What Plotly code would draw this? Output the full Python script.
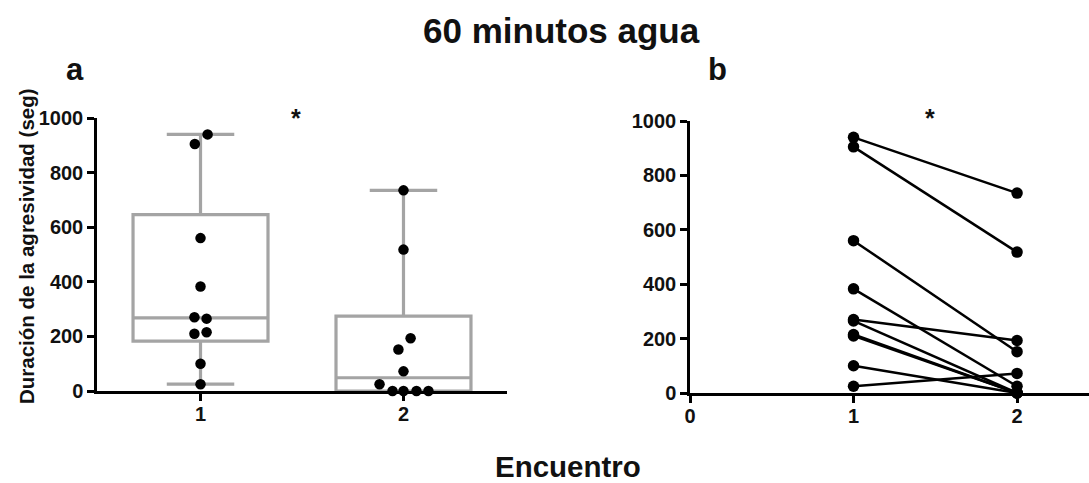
import numpy as np
import plotly.graph_objects as go

# ---- data ----
encuentros = [1, 2]
encuentro1 = [940, 905, 560, 383, 270, 265, 215, 210, 100, 25]
encuentro2 = [735, 518, 152, 25, 193, 0, 0, 0, 0, 72]
y_ticks = [0, 200, 400, 600, 800, 1000]
x_ticks_b = [0, 1, 2]

# horizontal jitter of the dots in panel a (category units)
jitter1 = [0.035, -0.028, 0, 0, -0.03, 0.03, 0.03, -0.03, 0, 0]
jitter2 = [0, 0, -0.025, -0.118, 0.035, -0.054, 0, 0.064, 0.123, 0]

W, H = 1089, 483
FONT = "Liberation Sans, Arial, Helvetica, sans-serif"
GRAY = "#a4a4a4"

def stats(v):
    v = np.asarray(v, float)
    q1, med, q3 = np.percentile(v, [25, 50, 75], method="weibull")
    return q1, med, q3, v.min(), v.max()

s1, s2 = stats(encuentro1), stats(encuentro2)

fig = go.Figure()

fig.add_trace(go.Box(
    x=encuentros,
    q1=[s1[0], s2[0]], median=[s1[1], s2[1]], q3=[s1[2], s2[2]],
    lowerfence=[s1[3], s2[3]], upperfence=[s1[4], s2[4]],
    width=0.665, whiskerwidth=0.5,
    line=dict(color=GRAY, width=3.2), fillcolor="rgba(0,0,0,0)",
    boxpoints=False, hoverinfo="skip", showlegend=False,
    xaxis="x", yaxis="y",
))

for cat, vals, jit in [(1, encuentro1, jitter1), (2, encuentro2, jitter2)]:
    fig.add_trace(go.Scatter(
        x=[cat + j for j in jit], y=vals, mode="markers",
        marker=dict(color="black", size=10.5),
        cliponaxis=False, showlegend=False, xaxis="x", yaxis="y",
    ))

for a, b in zip(encuentro1, encuentro2):
    fig.add_trace(go.Scatter(
        x=encuentros, y=[a, b], mode="lines+markers",
        line=dict(color="black", width=2.5),
        marker=dict(color="black", size=11.5),
        cliponaxis=False, showlegend=False, xaxis="x2", yaxis="y2",
    ))

axis_common = dict(
    showline=True, linecolor="black", linewidth=2.5, ticks="outside",
    ticklen=7, tickwidth=2.5, tickcolor="black", showgrid=False,
    zeroline=False, automargin=False,
    tickfont=dict(family=FONT, size=20, color="#111", weight="bold"),
)

fig.update_layout(
    width=W, height=H, margin=dict(l=0, r=0, t=0, b=0, pad=0, autoexpand=False),
    paper_bgcolor="white", plot_bgcolor="white",
    xaxis=dict(domain=[97 / W, 507 / W], range=[0.49, 2.51],
               tickvals=encuentros, anchor="y", ticklabelstandoff=-4,
               **axis_common),
    yaxis=dict(domain=[1 - 391 / H, 1 - 118 / H], range=[0, 1000],
               tickvals=y_ticks, anchor="x", **axis_common),
    xaxis2=dict(domain=[690 / W, 1.0], range=[0, 2.44],
                tickvals=x_ticks_b, anchor="y2", ticklabelstandoff=-4,
                **axis_common),
    yaxis2=dict(domain=[1 - 393 / H, 1 - 121 / H], range=[0, 1000],
                tickvals=y_ticks, anchor="x2", **axis_common),
)

def ann(text, x, y, size, angle=0):
    fig.add_annotation(
        text=text, x=x / W, y=1 - y / H, xref="paper", yref="paper",
        showarrow=False, textangle=angle, xanchor="center", yanchor="middle",
        font=dict(family=FONT, size=size, color="#111"),
    )

ann("<b>60 minutos agua</b>", 561, 30, 35)
ann("<b>a</b>", 75, 70, 31)
ann("<b>b</b>", 717, 70, 31)
ann("<b>*</b>", 296, 118, 25)
ann("<b>*</b>", 930, 118, 25)
ann("<b>Encuentro</b>", 568, 466, 29.5)
ann("<b>Duración de la agresividad (seg)</b>", 27, 246, 20.5, angle=-90)

fig.write_html("out.html")
